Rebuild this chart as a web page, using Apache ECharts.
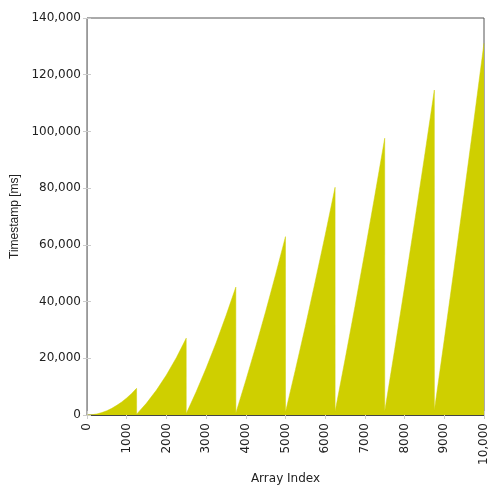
<!DOCTYPE html>
<html>
<head>
<meta charset="utf-8">
<script src="https://cdn.jsdelivr.net/npm/echarts@6/dist/echarts.min.js"></script>
<style>html,body{margin:0;padding:0;background:#fff}#c{width:500px;height:500px}</style>
</head>
<body>
<div id="c"></div>
<script>
// Array index positions
const arrayIndex = [
  0, 125, 250, 375, 500, 625, 750, 875, 1000, 1125, 1249,
  1250, 1500, 1750, 2000, 2250, 2499,
  2500, 2750, 3000, 3250, 3500, 3749,
  3750, 4000, 4250, 4500, 4750, 4999,
  5000, 5250, 5500, 5750, 6000, 6249,
  6250, 6500, 6750, 7000, 7250, 7499,
  7500, 7750, 8000, 8250, 8500, 8749,
  8750, 9000, 9250, 9500, 9750, 9999
];
// Timestamps [ms]
const timestampMs = [
  0, 90, 380, 850, 1500, 2350, 3400, 4600, 6000, 7600, 9400,
  300, 4200, 8800, 14100, 20200, 27100,
  500, 8200, 16500, 25400, 35000, 45100,
  700, 12200, 24100, 36500, 49500, 62900,
  1100, 16000, 31300, 47200, 63500, 80300,
  1300, 19600, 38300, 57600, 77400, 97600,
  1400, 23100, 45200, 67900, 91000, 114600,
  1700, 26600, 52000, 77900, 104300, 131100
];
const xTicks = [0, 1000, 2000, 3000, 4000, 5000, 6000, 7000, 8000, 9000, 10000];
const yTicks = [0, 20000, 40000, 60000, 80000, 100000, 120000, 140000];

const points = arrayIndex.map((x, i) => [x, timestampMs[i]]);
const font = 'DejaVu Sans';
const fmtX = v => v >= 10000 ? v.toLocaleString('en-US') : String(v);
const fmtY = v => v.toLocaleString('en-US');

const chart = echarts.init(document.getElementById('c'));
chart.setOption({
  animation: false,
  grid: { left: 87, right: 16, top: 18, bottom: 85, containLabel: false, outerBoundsMode: 'none',
          show: true, borderColor: '#555', borderWidth: 1, backgroundColor: 'transparent' },
  xAxis: [{
    type: 'value', min: xTicks[0], max: xTicks[xTicks.length - 1], interval: 1000,
    name: 'Array Index', nameLocation: 'middle', nameGap: 58,
    nameTextStyle: { fontFamily: font, fontSize: 12, color: '#222' },
    axisLine: { show: true, lineStyle: { color: '#444' } },
    axisTick: { show: true, inside: true, length: 4, lineStyle: { color: '#ccc' } },
    splitLine: { show: false },
    axisLabel: { rotate: 90, margin: 8, fontFamily: font, fontSize: 12, color: '#222', formatter: fmtX, showMaxLabel: true, showMinLabel: true }
  }, {
    type: 'value', position: 'top', min: xTicks[0], max: xTicks[xTicks.length - 1], interval: 1000,
    axisLine: { show: false },
    axisTick: { show: true, inside: true, length: 4, lineStyle: { color: '#ccc' } },
    axisLabel: { show: false }, splitLine: { show: false }
  }],
  yAxis: [{
    type: 'value', min: yTicks[0], max: yTicks[yTicks.length - 1], interval: 20000,
    name: 'Timestamp [ms]', nameLocation: 'middle', nameGap: 65,
    nameTextStyle: { fontFamily: 'Liberation Sans', fontSize: 12, color: '#222' },
    axisLine: { show: true, lineStyle: { color: '#999' } },
    axisTick: { show: true, inside: true, length: 4, lineStyle: { color: '#ccc' } },
    splitLine: { show: false },
    axisLabel: { margin: 6, fontFamily: font, fontSize: 12, color: '#222', formatter: fmtY }
  }, {
    type: 'value', position: 'right', min: yTicks[0], max: yTicks[yTicks.length - 1], interval: 20000,
    axisLine: { show: false },
    axisTick: { show: true, inside: true, length: 4, lineStyle: { color: '#ccc' } },
    axisLabel: { show: false }, splitLine: { show: false }
  }],
  series: [{
    type: 'line', data: points, showSymbol: false, symbol: 'none',
    lineStyle: { width: 0.5, color: '#cfcf00' },
    areaStyle: { color: '#cfcf00', opacity: 1 },
    z: 1
  }]
});
</script>
</body>
</html>
